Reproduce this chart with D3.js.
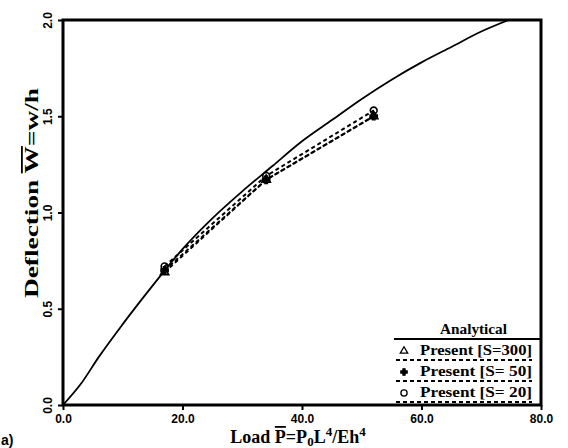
<!DOCTYPE html>
<html>
<head>
<meta charset="utf-8">
<script src="https://cdn.jsdelivr.net/npm/d3@7"></script>
<style>
  body { margin: 0; background: #fff; }
  svg { display: block; }
  .tick text { font-family: "Liberation Sans", Arial, sans-serif; font-weight: bold; font-size: 12px; }
  .ttl { font-family: "Liberation Serif", "Times New Roman", serif; font-weight: bold; font-size: 15px; }
</style>
</head>
<body>
<div id="chart"></div>
<script>
// analytical curve
let anaX = [0, 3, 6, 10, 15, 20, 25, 30, 35, 40, 45, 50, 55, 60, 65, 70, 74.6];
let anaY = [0, 0.11, 0.25, 0.42, 0.62, 0.81, 0.97, 1.11, 1.24, 1.37, 1.48, 1.59, 1.69, 1.78, 1.86, 1.94, 2.0];

// present results
let loads = [17, 34, 52];
let s300 = [0.69, 1.17, 1.50];
let s50 = [0.70, 1.17, 1.50];
let s20 = [0.72, 1.19, 1.53];

let xTicks = [0, 20, 40, 60, 80];
let yTicks = [0, 0.5, 1.0, 1.5, 2.0];

let W = 568, H = 448;
let svg = d3.select('#chart').append('svg').attr('width', W).attr('height', H);

let x = d3.scaleLinear().domain([0, 80]).range([63, 541]);
let y = d3.scaleLinear().domain([0, 2]).range([405, 20]);

// axes
let xAxis = svg.append('g').attr('transform', 'translate(0,405)')
    .call(d3.axisBottom(x).tickValues(xTicks).tickFormat(d3.format('.1f')).tickSize(5).tickSizeOuter(0));
let yAxis = svg.append('g').attr('transform', 'translate(63,0)')
    .call(d3.axisLeft(y).tickValues(yTicks).tickFormat(d3.format('.1f')).tickSize(5).tickSizeOuter(0));
[xAxis, yAxis].forEach(g => {
    g.select('.domain').remove();
    g.selectAll('.tick line').attr('stroke', '#000').attr('stroke-width', 2);
});
xAxis.selectAll('.tick text').attr('dy', '0.8em');
yAxis.selectAll('.tick text')
    .attr('transform', 'rotate(-90)')
    .attr('x', 0).attr('y', -11).attr('dy', 0)
    .attr('text-anchor', 'middle');

// frame
svg.append('rect').attr('x', x(0)).attr('y', y(2))
    .attr('width', x(80) - x(0)).attr('height', y(0) - y(2))
    .attr('fill', 'none').attr('stroke', '#000').attr('stroke-width', 3);

let clip = svg.append('clipPath').attr('id', 'clip').append('rect')
    .attr('x', x(0)).attr('y', y(2)).attr('width', x(80) - x(0)).attr('height', y(0) - y(2));
let plot = svg.append('g').attr('clip-path', 'url(#clip)');

// analytical
let line = d3.line().x(d => x(d[0])).y(d => y(d[1])).curve(d3.curveMonotoneX);
plot.append('path').datum(d3.zip(anaX, anaY))
    .attr('d', line).attr('fill', 'none').attr('stroke', '#000').attr('stroke-width', 1.8);

// present series
let series = [
    {vals: s300, sym: d3.symbolTriangle, size: 30, fill: 'none'},
    {vals: s50, sym: d3.symbolCross, size: 28, fill: '#000'},
    {vals: s20, sym: d3.symbolCircle, size: 36, fill: 'none'}
];
series.forEach(s => {
    let pts = d3.zip(loads, s.vals);
    plot.append('path').datum(pts)
        .attr('d', d3.line().x(d => x(d[0])).y(d => y(d[1])))
        .attr('fill', 'none').attr('stroke', '#000').attr('stroke-width', 2)
        .attr('stroke-dasharray', '4,3');
    plot.selectAll(null).data(pts).enter().append('path')
        .attr('transform', d => `translate(${x(d[0])},${y(d[1])})`)
        .attr('d', d3.symbol().type(s.sym).size(s.size))
        .attr('fill', s.fill).attr('stroke', '#000').attr('stroke-width', 1.6);
});

// legend
let lg = svg.append('g');
lg.append('text').attr('class', 'ttl').attr('x', 440).attr('y', 334)
    .attr('textLength', 67).attr('lengthAdjust', 'spacingAndGlyphs')
    .style('font-size', '15px').text('Analytical');
lg.append('line').attr('x1', 394).attr('x2', 541).attr('y1', 339).attr('y2', 339)
    .attr('stroke', '#000').attr('stroke-width', 1.8);
let labels = ['Present [S=300]', 'Present [S= 50]', 'Present [S= 20]'];
labels.forEach((t, i) => {
    let yy = 355 + i * 21;
    lg.append('path').attr('transform', `translate(404,${yy - 4})`)
        .attr('d', d3.symbol().type(series[i].sym).size(series[i].size - 6))
        .attr('fill', series[i].fill).attr('stroke', '#000').attr('stroke-width', 1.3);
    lg.append('text').attr('class', 'ttl').attr('x', 420).attr('y', yy)
        .attr('textLength', 112).attr('lengthAdjust', 'spacingAndGlyphs')
        .style('font-size', '15px').text(t);
    lg.append('line').attr('x1', 396).attr('x2', 532).attr('y1', yy + 5).attr('y2', yy + 5)
        .attr('stroke', '#000').attr('stroke-width', 2).attr('stroke-dasharray', '4,3');
});

// axis titles
let xt = svg.append('text').attr('class', 'ttl').attr('x', 298).attr('y', 443)
    .attr('text-anchor', 'middle').style('font-size', '18px');
xt.append('tspan').text('Load ');
xt.append('tspan').style('text-decoration', 'overline').text('P');
xt.append('tspan').text('=P');
xt.append('tspan').attr('dy', 3).style('font-size', '13px').text('0');
xt.append('tspan').attr('dy', -3).text('L');
xt.append('tspan').attr('dy', -7).style('font-size', '13px').text('4');
xt.append('tspan').attr('dy', 7).text('/Eh');
xt.append('tspan').attr('dy', -7).style('font-size', '13px').text('4');

let yt = svg.append('text').attr('class', 'ttl')
    .attr('transform', 'translate(38,193) rotate(-90)').attr('text-anchor', 'middle')
    .attr('textLength', 210).attr('lengthAdjust', 'spacingAndGlyphs')
    .style('font-size', '18px');
yt.append('tspan').text('Deflection ');
yt.append('tspan').style('text-decoration', 'overline').text('W');
yt.append('tspan').text('=w/h');

svg.append('text').attr('x', 1).attr('y', 445)
    .style('font-family', '"Liberation Sans", Arial, sans-serif').style('font-weight', 'bold')
    .style('font-size', '14px').text('a)');
</script>
</body>
</html>
